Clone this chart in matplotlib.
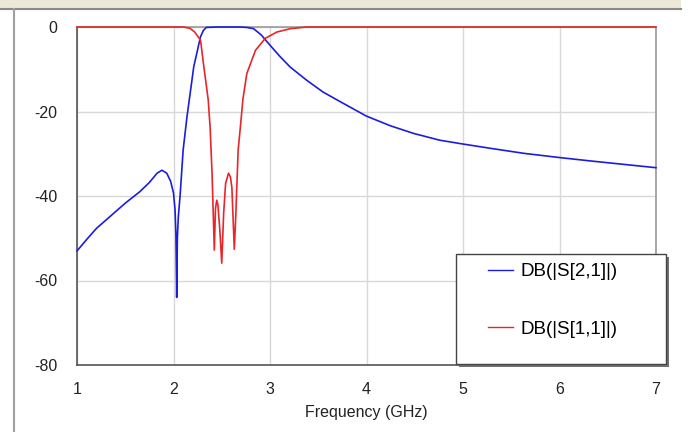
import matplotlib
matplotlib.use("Agg")
import matplotlib.pyplot as plt
from matplotlib.patches import Rectangle
from matplotlib.lines import Line2D

# S21 (blue)
s21_freq = [1.00, 1.10, 1.20, 1.34, 1.50, 1.65, 1.75, 1.83, 1.88, 1.93, 1.97, 2.00,
            2.016, 2.025, 2.033, 2.04, 2.05, 2.068, 2.10, 2.14, 2.21, 2.28, 2.31, 2.34,
            2.45, 2.60, 2.69, 2.76, 2.83, 2.91, 3.00, 3.10, 3.21, 3.38, 3.55, 3.73,
            4.00, 4.25, 4.49, 4.76, 5.00, 5.28, 5.63, 6.00, 6.32, 6.66, 7.00]
s21_db = [-53.0, -50.3, -47.7, -44.9, -41.7, -39.0, -36.8, -34.6, -33.9, -34.6, -36.5, -39.3,
          -43.3, -49.0, -64.0, -50.0, -44.9, -40.0, -29.1, -21.2, -9.4, -2.3, -0.8, -0.1,
          0.0, 0.0, 0.0, -0.1, -0.4, -1.9, -4.3, -6.9, -9.5, -12.6, -15.4, -17.7,
          -21.1, -23.4, -25.2, -26.8, -27.7, -28.7, -29.9, -30.9, -31.7, -32.5, -33.3]

# S11 (red)
s11_freq = [1.00, 2.10, 2.17, 2.22, 2.28, 2.31, 2.36, 2.38, 2.40, 2.423, 2.435, 2.448, 2.46,
            2.48, 2.50, 2.52, 2.54, 2.57, 2.59, 2.605, 2.63, 2.645, 2.67, 2.69, 2.72, 2.76,
            2.85, 2.95, 3.07, 3.21, 3.38, 7.00]
s11_db = [0.0, 0.0, -0.3, -1.2, -3.1, -8.6, -17.3, -24.0, -35.0, -52.8, -43.0, -41.0, -42.0,
          -48.0, -55.9, -44.0, -37.0, -34.6, -35.5, -38.0, -52.6, -44.9, -29.1, -24.4, -17.0, -11.0,
          -5.5, -2.7, -1.2, -0.4, 0.0, 0.0]

labels = ["DB(|S[2,1]|)", "DB(|S[1,1]|)"]
xticks = [1, 2, 3, 4, 5, 6, 7]
yticks = [0, -20, -40, -60, -80]

W, H = 689, 432
plt.rcParams['font.family'] = ['Liberation Sans', 'DejaVu Sans']
plt.rcParams['axes.unicode_minus'] = False

fig = plt.figure(figsize=(W / 100, H / 100), dpi=100)
fig.patch.set_facecolor('white')

# window frame bits
fig.patches.append(Rectangle((0, 1 - 8 / H), 681 / W, 8 / H, transform=fig.transFigure,
                             facecolor='#ece9d8', edgecolor='none', zorder=0))
fig.lines.append(Line2D([0, 681 / W], [1 - 9 / H, 1 - 9 / H], transform=fig.transFigure,
                        color='#8a8a8a', lw=1.5))
fig.lines.append(Line2D([14 / W, 14 / W], [0, 1 - 9 / H], transform=fig.transFigure,
                        color='#a0a0a0', lw=1.5))

ax = fig.add_axes([77 / W, 1 - 365 / H, (656 - 77) / W, (365 - 27) / H])
ax.plot(s21_freq, s21_db, color='#1c1ce0', lw=1.2, label=labels[0], zorder=4, clip_on=False)
ax.plot(s11_freq, s11_db, color='#e8262a', lw=1.2, label=labels[1], zorder=4, clip_on=False)

ax.set_xlim(1, 7)
ax.set_ylim(-80, 0)
ax.set_xticks(xticks)
ax.set_yticks(yticks)
ax.grid(True, color='#d8d8d8', lw=1)
ax.tick_params(length=0, labelsize=11.5, colors='#222222')
ax.tick_params(axis='y', pad=14)
ax.tick_params(axis='x', pad=12)
ax.set_xlabel("Frequency (GHz)", fontsize=11.5, color='#222222', labelpad=6)
for s in ['left', 'bottom']:
    ax.spines[s].set_color('#555555')
for s in ['top', 'right']:
    ax.spines[s].set_color('#999999')
for s in ax.spines.values():
    s.set_linewidth(1.2)

# legend box with shadow
x0, y0, x1, y1 = 456, 254, 666, 364
fig.patches.append(Rectangle(((x0 + 3) / W, 1 - (y1 + 3) / H), (x1 - x0) / W, (y1 - y0) / H,
                             transform=fig.transFigure, facecolor='#707070',
                             edgecolor='none', zorder=5))
fig.patches.append(Rectangle((x0 / W, 1 - y1 / H), (x1 - x0) / W, (y1 - y0) / H,
                             transform=fig.transFigure, facecolor='white',
                             edgecolor='#444444', lw=1.0, zorder=6))
leg = fig.legend(loc='upper left', bbox_to_anchor=(488 / W, 1 - 263 / H),
                 frameon=False, fontsize=13.5, handlelength=1.35, handletextpad=0.4,
                 labelspacing=2.15, borderpad=0, borderaxespad=0)
leg.set_zorder(7)
for line in leg.get_lines():
    line.set_linewidth(1.0)

fig.savefig("out.png", dpi=100)
